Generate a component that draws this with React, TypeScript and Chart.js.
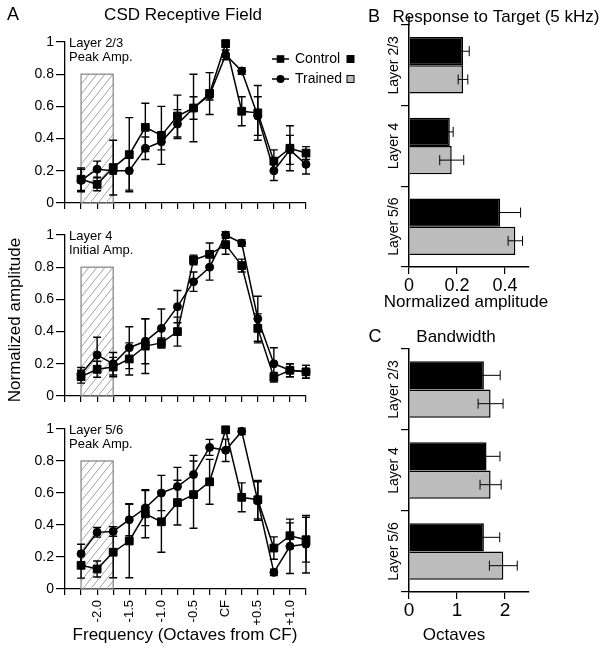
import React, { useEffect, useRef } from 'react';
import { Chart, registerables } from 'chart.js';

Chart.register(...registerables);

const FONT = "'Liberation Sans', Arial, Helvetica, sans-serif";
Chart.defaults.font.family = FONT;
Chart.defaults.color = '#000';

// ---------- Panel A: CSD receptive field ----------
const octaves = [-2.25, -2.0, -1.75, -1.5, -1.25, -1.0, -0.75, -0.5, -0.25, 0, 0.25, 0.5, 0.75, 1.0, 1.25];
const xTickValues = [-2.5, -2.25, -2.0, -1.75, -1.5, -1.25, -1.0, -0.75, -0.5, -0.25, 0, 0.25, 0.5, 0.75, 1.0, 1.25];
const xLabelValues = [-2.0, -1.5, -1.0, -0.5, 0, 0.5, 1.0];
const xLabelTexts = ['-2.0', '-1.5', '-1.0', '-0.5', 'CF', '+0.5', '+1.0'];
const yTickValues = [0, 0.2, 0.4, 0.6, 0.8, 1];
const hatchRange = [-2.25, -1.75];
const hatchTop = 0.8;

const l23Control = [0.148, 0.116, 0.22, 0.30, 0.47, 0.42, 0.54, 0.59, 0.68, 0.99, 0.57, 0.56, 0.26, 0.34, 0.31];
const l23ControlErr = [0.07, 0.04, 0.17, 0.23, 0.15, 0.18, 0.13, 0.21, 0.13, 0.02, 0.09, 0.17, 0.07, 0.14, 0.04];
const l23Trained = [0.14, 0.21, 0.20, 0.20, 0.34, 0.38, 0.49, 0.59, 0.67, 0.92, 0.82, 0.54, 0.20, 0.33, 0.24];
const l23TrainedErr = [0.07, 0.05, 0.02, 0.12, 0.07, 0.05, 0.09, 0.07, 0.03, 0.03, 0.02, 0.12, 0.06, 0.09, 0.06];

const l4Control = [0.12, 0.166, 0.18, 0.23, 0.31, 0.33, 0.40, 0.845, 0.88, 0.94, 0.81, 0.42, 0.116, 0.16, 0.15];
const l4ControlErr = [0.04, 0.05, 0.06, 0.10, 0.17, 0.03, 0.09, 0.03, 0.07, 0.06, 0.04, 0.09, 0.03, 0.04, 0.04];
const l4Trained = [0.137, 0.255, 0.20, 0.30, 0.34, 0.42, 0.555, 0.71, 0.80, 1.0, 0.95, 0.48, 0.20, 0.16, 0.15];
const l4TrainedErr = [0.04, 0.11, 0.07, 0.13, 0.14, 0.12, 0.10, 0.06, 0.08, 0.02, 0.02, 0.14, 0.10, 0.04, 0.04];

const l56Control = [0.148, 0.125, 0.23, 0.30, 0.47, 0.42, 0.54, 0.59, 0.67, 0.995, 0.573, 0.558, 0.256, 0.333, 0.308];
const l56ControlErr = [0.08, 0.05, 0.16, 0.23, 0.15, 0.19, 0.14, 0.21, 0.14, 0.02, 0.09, 0.12, 0.07, 0.08, 0.14];
const l56Trained = [0.22, 0.354, 0.36, 0.433, 0.506, 0.60, 0.64, 0.715, 0.885, 0.867, 0.985, 0.55, 0.104, 0.267, 0.28];
const l56TrainedErr = [0.06, 0.03, 0.03, 0.10, 0.11, 0.11, 0.12, 0.12, 0.05, 0.07, 0.02, 0.12, 0.02, 0.17, 0.18];

// ---------- Panel B / C ----------
const layers = ['Layer 2/3', 'Layer 4', 'Layer 5/6'];
const targetControl = [0.225, 0.17, 0.38];
const targetControlErr = [0.026, 0.014, 0.085];
const targetTrained = [0.225, 0.178, 0.443];
const targetTrainedErr = [0.02, 0.05, 0.03];
const targetTicks = [0, 0.2, 0.4];

const bwControl = [1.56, 1.615, 1.56];
const bwControlErr = [0.34, 0.28, 0.33];
const bwTrained = [1.70, 1.70, 1.965];
const bwTrainedErr = [0.26, 0.22, 0.29];
const bwTicks = [0, 1, 2];

const TRAINED_GRAY = '#bcbcbc';
const W = 602;
const H = 650;

function drawText(ctx: CanvasRenderingContext2D, text: string, x: number, y: number, size: number, align: CanvasTextAlign = 'center', rotate = false) {
  ctx.save();
  ctx.font = `${size}px ${FONT}`;
  ctx.fillStyle = '#000';
  ctx.textAlign = align;
  ctx.textBaseline = 'middle';
  ctx.translate(x, y);
  if (rotate) ctx.rotate(-Math.PI / 2);
  ctx.fillText(text, 0, 0);
  ctx.restore();
}

const hatchPlugin = {
  id: 'hatch',
  beforeDatasetsDraw(chart: any) {
    const { ctx, scales } = chart;
    const x0 = scales.x.getPixelForValue(hatchRange[0]);
    const x1 = scales.x.getPixelForValue(hatchRange[1]);
    const y0 = scales.y.getPixelForValue(hatchTop);
    const y1 = scales.y.getPixelForValue(0);
    const h = y1 - y0;
    const slope = 1.25;
    ctx.save();
    ctx.beginPath();
    ctx.rect(x0, y0, x1 - x0, h);
    ctx.clip();
    ctx.strokeStyle = '#a0a0a0';
    ctx.lineWidth = 1;
    for (let k = -h / slope; k < x1 - x0 + 2; k += 8) {
      ctx.beginPath();
      ctx.moveTo(x0 + k, y1);
      ctx.lineTo(x0 + k + h / slope, y0);
      ctx.stroke();
    }
    ctx.restore();
    ctx.save();
    ctx.strokeStyle = '#8a8a8a';
    ctx.lineWidth = 1.3;
    ctx.strokeRect(x0, y0, x1 - x0, h);
    ctx.restore();
  },
};

function errorBars(chart: any) {
  const ctx = chart.ctx;
  const horizontal = chart.options.indexAxis === 'y';
  chart.data.datasets.forEach((ds: any, di: number) => {
    const errs = ds.errors;
    if (!errs) return;
    const meta = chart.getDatasetMeta(di);
    const vScale = horizontal ? chart.scales.x : chart.scales.y;
    ctx.save();
    ctx.strokeStyle = '#000';
    ctx.lineWidth = horizontal ? 1 : 1.4;
    meta.data.forEach((el: any, i: number) => {
      const raw = horizontal ? ds.data[i] : ds.data[i].y;
      const lo = vScale.getPixelForValue(raw - errs[i]);
      const hi = vScale.getPixelForValue(raw + errs[i]);
      const cap = horizontal ? 5 : 4;
      ctx.beginPath();
      if (horizontal) {
        const y = el.y;
        ctx.moveTo(lo, y); ctx.lineTo(hi, y);
        ctx.moveTo(lo, y - cap); ctx.lineTo(lo, y + cap);
        ctx.moveTo(hi, y - cap); ctx.lineTo(hi, y + cap);
      } else {
        const x = el.x;
        ctx.moveTo(x, lo); ctx.lineTo(x, hi);
        ctx.moveTo(x - cap, lo); ctx.lineTo(x + cap, lo);
        ctx.moveTo(x - cap, hi); ctx.lineTo(x + cap, hi);
      }
      ctx.stroke();
    });
    ctx.restore();
  });
}

const errLinePlugin = { id: 'errLine', beforeDatasetsDraw: errorBars };
const errBarPlugin = { id: 'errBar', afterDatasetsDraw: errorBars };

type LinePanel = {
  control: number[]; controlErr: number[]; trained: number[]; trainedErr: number[];
  areaTop: number; areaBottom: number; note1: string; note2: string; bottomPanel: boolean;
  extras?: (ctx: CanvasRenderingContext2D, a: any) => void;
};

function lineConfig(p: LinePanel) {
  const xAxisH = p.bottomPanel ? 61 : 20;
  const areaRight = 306;
  const yAxisW = 65;
  return {
    type: 'line',
    data: {
      datasets: [
        {
          label: 'Control',
          data: octaves.map((x, i) => ({ x, y: p.control[i] })),
          errors: p.controlErr,
          borderColor: '#000', borderWidth: 1.5,
          pointStyle: 'rect', pointRadius: 5.5,
          pointBackgroundColor: '#000', pointBorderColor: '#000', pointBorderWidth: 1,
          clip: false, tension: 0, fill: false,
        },
        {
          label: 'Trained',
          data: octaves.map((x, i) => ({ x, y: p.trained[i] })),
          errors: p.trainedErr,
          borderColor: '#000', borderWidth: 1.5,
          pointStyle: 'circle', pointRadius: 4,
          pointBackgroundColor: '#000', pointBorderColor: '#000', pointBorderWidth: 1,
          clip: false, tension: 0, fill: false,
        },
      ],
    },
    options: {
      responsive: false, animation: false, devicePixelRatio: 1, events: [],
      layout: { padding: { left: 0, right: W - areaRight, top: p.areaTop, bottom: H - p.areaBottom - xAxisH } },
      plugins: { legend: { display: false }, tooltip: { enabled: false }, title: { display: false } },
      scales: {
        x: {
          type: 'linear', min: -2.5, max: 1.25,
          afterBuildTicks: (s: any) => { s.ticks = xTickValues.map((v) => ({ value: v })); },
          afterFit: (s: any) => { s.height = xAxisH; },
          ticks: {
            display: p.bottomPanel, autoSkip: false, minRotation: 90, maxRotation: 90, padding: 5,
            font: { size: 13 }, color: '#000',
            callback: (value: number) => {
              const i = xLabelValues.findIndex((v) => Math.abs(v - value) < 1e-9);
              return i >= 0 ? xLabelTexts[i] : '';
            },
          },
          grid: { display: true, drawOnChartArea: false, drawTicks: true, tickLength: 6, color: '#000', lineWidth: 1.2 },
          border: { display: true, color: '#000', width: 1.3 },
        },
        y: {
          type: 'linear', min: 0, max: 1,
          afterBuildTicks: (s: any) => { s.ticks = yTickValues.map((v) => ({ value: v })); },
          afterFit: (s: any) => { s.width = yAxisW; },
          ticks: { font: { size: 14 }, color: '#000', padding: 2, callback: (v: number) => String(v) },
          grid: { display: true, drawOnChartArea: false, drawTicks: true, tickLength: 9, color: '#000', lineWidth: 1.2 },
          border: { display: true, color: '#000', width: 1.3 },
        },
      },
    },
    plugins: [
      hatchPlugin,
      errLinePlugin,
      {
        id: 'annot',
        afterDraw(chart: any) {
          const a = chart.chartArea;
          const ctx = chart.ctx;
          drawText(ctx, p.note1, a.left + 4, a.top + 1, 13, 'left');
          drawText(ctx, p.note2, a.left + 4, a.top + 15, 13, 'left');
          if (p.extras) p.extras(ctx, a);
        },
      },
    ],
  };
}

type BarPanel = {
  control: number[]; controlErr: number[]; trained: number[]; trainedErr: number[];
  max: number; ticks: number[]; areaTop: number; areaBottom: number;
  letter: string; letterX: number; title: string; titleX: number; titleY: number;
  xTitle: string; xTitleX: number; xTitleY: number; tickFont: number; tickPad: number; axisExtendTop?: number;
};

function barConfig(p: BarPanel) {
  const xAxisH = 40;
  const areaLeft = 409;
  const areaRight = 529;
  return {
    type: 'bar',
    data: {
      labels: layers,
      datasets: [
        {
          label: 'Control', data: p.control, errors: p.controlErr,
          backgroundColor: '#000', borderColor: '#000', borderWidth: 1.5,
          categoryPercentage: 0.7, barPercentage: 1.0,
        },
        {
          label: 'Trained', data: p.trained, errors: p.trainedErr,
          backgroundColor: TRAINED_GRAY, borderColor: '#000', borderWidth: 1.5,
          categoryPercentage: 0.7, barPercentage: 1.0,
        },
      ],
    },
    options: {
      indexAxis: 'y',
      responsive: false, animation: false, devicePixelRatio: 1, events: [],
      layout: { padding: { left: 0, right: W - areaRight, top: p.areaTop, bottom: H - p.areaBottom - xAxisH } },
      plugins: { legend: { display: false }, tooltip: { enabled: false }, title: { display: false } },
      scales: {
        x: {
          type: 'linear', min: 0, max: p.max,
          afterBuildTicks: (s: any) => { s.ticks = p.ticks.map((v) => ({ value: v })); },
          afterFit: (s: any) => { s.height = xAxisH; },
          ticks: { font: { size: p.tickFont }, color: '#000', padding: p.tickPad, callback: (v: number) => String(v) },
          grid: { display: true, drawOnChartArea: false, drawTicks: true, tickLength: 7, color: '#000', lineWidth: 1.2 },
          border: { display: true, color: '#000', width: 1.5 },
        },
        y: {
          type: 'category', offset: true,
          afterFit: (s: any) => { s.width = areaLeft; },
          ticks: { display: false },
          grid: { display: true, offset: true, drawOnChartArea: false, drawTicks: true, tickLength: 8, color: '#000', lineWidth: 1.2 },
          border: { display: true, color: '#000', width: 1.5 },
        },
      },
    },
    plugins: [
      errBarPlugin,
      {
        id: 'barText',
        afterDraw(chart: any) {
          const ctx = chart.ctx;
          const a = chart.chartArea;
          const yS = chart.scales.y;
          layers.forEach((lab, i) => {
            drawText(ctx, lab, 394, yS.getPixelForValue(i), 14, 'center', true);
          });
          drawText(ctx, p.letter, p.letterX, p.titleY, 18, 'center');
          drawText(ctx, p.title, p.titleX, p.titleY, 17, 'center');
          drawText(ctx, p.xTitle, p.xTitleX, p.xTitleY, 17, 'center');
          if (p.axisExtendTop !== undefined) {
            ctx.save();
            ctx.strokeStyle = '#000';
            ctx.lineWidth = 1.5;
            ctx.beginPath();
            ctx.moveTo(a.left, p.axisExtendTop);
            ctx.lineTo(a.left, a.top);
            ctx.stroke();
            ctx.restore();
          }
        },
      },
    ],
  };
}

function legendDraw(ctx: CanvasRenderingContext2D, a: any) {
  const rows = [
    { label: 'Control', y: a.top + 17, shape: 'rect', swatch: '#000' },
    { label: 'Trained', y: a.top + 37, shape: 'circle', swatch: TRAINED_GRAY },
  ];
  const lx0 = a.right - 34;
  const lx1 = a.right - 17;
  rows.forEach((r) => {
    ctx.save();
    ctx.strokeStyle = '#000';
    ctx.fillStyle = '#000';
    ctx.lineWidth = 1.5;
    ctx.beginPath();
    ctx.moveTo(lx0, r.y);
    ctx.lineTo(lx1, r.y);
    ctx.stroke();
    const cx = (lx0 + lx1) / 2;
    if (r.shape === 'rect') ctx.fillRect(cx - 3.8, r.y - 3.8, 7.6, 7.6);
    else { ctx.beginPath(); ctx.arc(cx, r.y, 4, 0, Math.PI * 2); ctx.fill(); }
    ctx.restore();
    drawText(ctx, r.label, a.right - 11, r.y, 14, 'left');
    ctx.save();
    ctx.fillStyle = r.swatch;
    ctx.strokeStyle = '#000';
    ctx.lineWidth = 1;
    ctx.fillRect(347, r.y - 3.5, 7, 7);
    ctx.strokeRect(347, r.y - 3.5, 7, 7);
    ctx.restore();
  });
}

function ChartCanvas({ make }: { make: () => any }) {
  const ref = useRef<HTMLCanvasElement>(null);
  useEffect(() => {
    const chart = new Chart(ref.current as HTMLCanvasElement, make());
    return () => chart.destroy();
  }, []);
  return (
    <canvas
      ref={ref}
      width={W}
      height={H}
      style={{ position: 'absolute', left: 0, top: 0, width: W, height: H }}
    />
  );
}

export default function App() {
  return (
    <div style={{ position: 'fixed', left: 0, top: 0, width: W, height: H, background: '#fff', overflow: 'hidden' }}>
      <ChartCanvas
        make={() =>
          lineConfig({
            control: l23Control, controlErr: l23ControlErr, trained: l23Trained, trainedErr: l23TrainedErr,
            areaTop: 42, areaBottom: 203, note1: 'Layer 2/3', note2: 'Peak Amp.', bottomPanel: false,
            extras: (ctx, a) => {
              drawText(ctx, 'A', 13, 15, 18, 'center');
              drawText(ctx, 'CSD Receptive Field', 183, 15, 17, 'center');
              legendDraw(ctx, a);
            },
          })
        }
      />
      <ChartCanvas
        make={() =>
          lineConfig({
            control: l4Control, controlErr: l4ControlErr, trained: l4Trained, trainedErr: l4TrainedErr,
            areaTop: 235, areaBottom: 396, note1: 'Layer 4', note2: 'Initial Amp.', bottomPanel: false,
            extras: (ctx) => {
              drawText(ctx, 'Normalized amplitude', 15, 320, 17, 'center', true);
            },
          })
        }
      />
      <ChartCanvas
        make={() =>
          lineConfig({
            control: l56Control, controlErr: l56ControlErr, trained: l56Trained, trainedErr: l56TrainedErr,
            areaTop: 429, areaBottom: 589, note1: 'Layer 5/6', note2: 'Peak Amp.', bottomPanel: true,
            extras: (ctx) => {
              drawText(ctx, 'Frequency (Octaves from CF)', 185, 635, 17, 'center');
            },
          })
        }
      />
      <ChartCanvas
        make={() =>
          barConfig({
            control: targetControl, controlErr: targetControlErr, trained: targetTrained, trainedErr: targetTrainedErr,
            max: 0.5, ticks: targetTicks, areaTop: 25, areaBottom: 267,
            letter: 'B', letterX: 374, title: 'Response to Target (5 kHz)', titleX: 496, titleY: 17,
            xTitle: 'Normalized amplitude', xTitleX: 466, xTitleY: 302, tickFont: 18, tickPad: 1, axisExtendTop: 16,
          })
        }
      />
      <ChartCanvas
        make={() =>
          barConfig({
            control: bwControl, controlErr: bwControlErr, trained: bwTrained, trainedErr: bwTrainedErr,
            max: 2.5, ticks: bwTicks, areaTop: 349, areaBottom: 592,
            letter: 'C', letterX: 375, title: 'Bandwidth', titleX: 456, titleY: 337,
            xTitle: 'Octaves', xTitleX: 454, xTitleY: 635, tickFont: 19, tickPad: 0,
          })
        }
      />
    </div>
  );
}
